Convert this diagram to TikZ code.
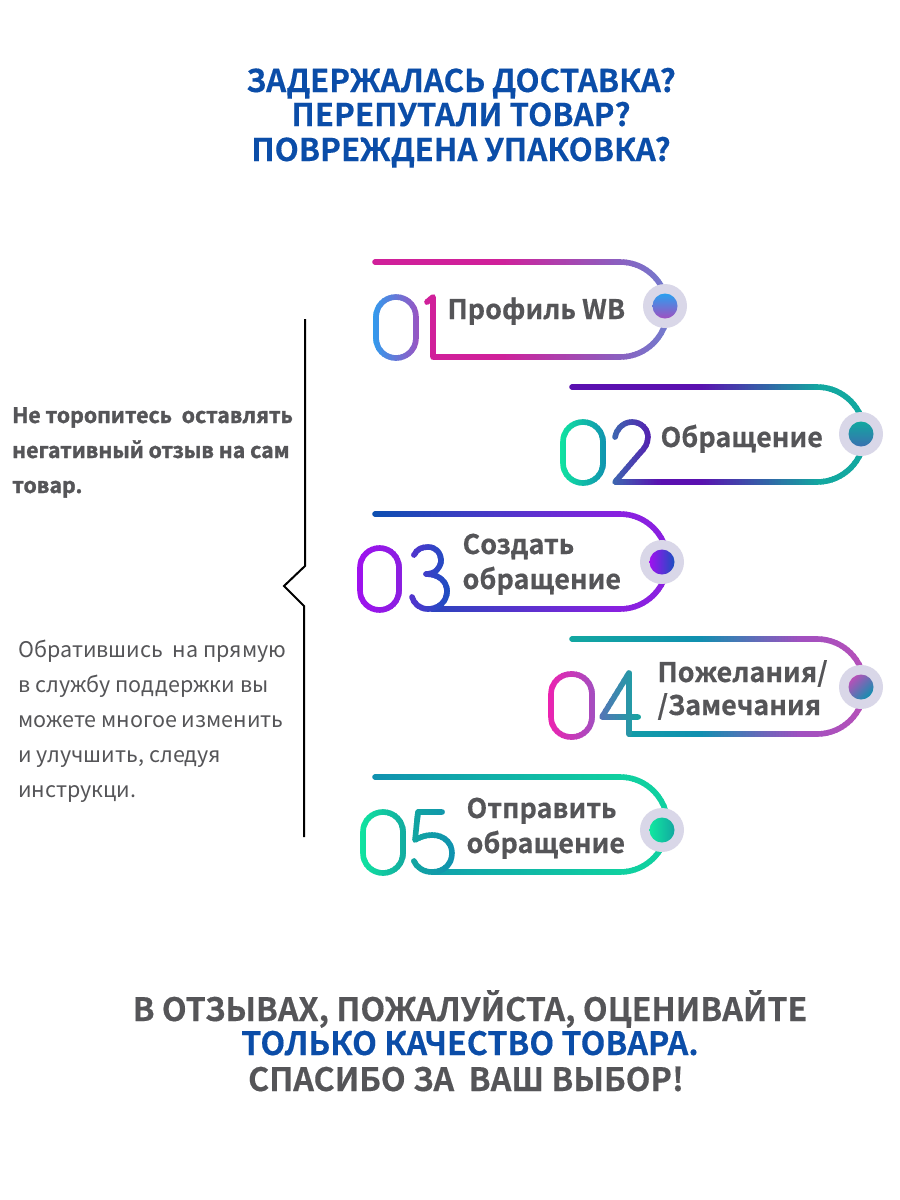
\documentclass[tikz,border=0pt]{standalone}
\usepackage{fontspec}
\setmainfont{Noto Sans CJK SC}[BoldFont={Noto Sans CJK SC Bold},BoldFeatures={FakeBold=0.4}]
\newfontfamily\sideheavy{Noto Sans CJK SC Bold}[FakeBold=1.6]
\definecolor{txt}{HTML}{555558}
\definecolor{navy}{HTML}{0B4DA8}
\definecolor{halo}{HTML}{D9D7E8}
\definecolor{mag}{HTML}{D0209A}
\definecolor{lilac}{HTML}{8A60C0}
\definecolor{peri}{HTML}{7080D0}
\definecolor{sky}{HTML}{2AA0F0}
\definecolor{orchid}{HTML}{A050C0}
\definecolor{violet}{HTML}{5A10B0}
\definecolor{teal}{HTML}{12A8A0}
\definecolor{mint}{HTML}{10E8A0}
\definecolor{ocean}{HTML}{1090B0}
\definecolor{steel}{HTML}{3A70B0}
\definecolor{cobalt}{HTML}{0A50B0}
\definecolor{purp}{HTML}{8A20E0}
\definecolor{brightp}{HTML}{A010F0}
\definecolor{indigo}{HTML}{5A30D0}
\definecolor{royal}{HTML}{1A50C0}
\definecolor{pink}{HTML}{F020B0}
\definecolor{orchidb}{HTML}{B850B8}
\definecolor{slate}{HTML}{5A70B8}
\definecolor{seafoam}{HTML}{10D0A0}
\tikzset{
  title/.style={font=\fontsize{31.3}{31.3}\selectfont\bfseries,text=navy,anchor=base},
  closing/.style={font=\fontsize{32.2}{32.2}\selectfont\bfseries,text=txt,anchor=base},
  tag/.style={font=\fontsize{27}{27}\selectfont\bfseries,text=txt,anchor=base west},
  sidebold/.style={font=\fontsize{21.3}{21.3}\selectfont\sideheavy,text=txt,anchor=base west,inner sep=0pt},
  sidereg/.style={font=\fontsize{21.5}{21.5}\selectfont,text=txt,anchor=base west,inner sep=0pt},
  stroke/.style={line width=5.6pt,line cap=round,line join=round},
}
% horizontal gradient stroke: x0, x1, colour a, colour b, path
\newcommand\gs[5]{%
  \pgfmathtruncatemacro\gsN{max(1,round((#2-#1)/3))}%
  \pgfmathsetmacro\gsS{(#2-#1)/\gsN}%
  \foreach \gsI in {1,...,\gsN}{%
    \pgfmathsetmacro\gsA{#1+\gsS*(\gsI-1)}%
    \pgfmathsetmacro\gsB{#1+\gsS*\gsI+1}%
    \pgfmathsetmacro\gsP{100*(\gsI-0.5)/\gsN}%
    \begin{scope}
      \clip (\gsA,0) rectangle (\gsB,1200);
      \draw[stroke,color={#4!\gsP!#3}] #5;
    \end{scope}
  }%
}
\newcommand\tagarc[2]{(#1,#2) .. controls ({#1+26.2},#2) and ({#1+47.5},{#2+21.3}) .. ({#1+47.5},{#2+47.5}) .. controls ({#1+47.5},{#2+73.7}) and ({#1+26.2},{#2+95}) .. (#1,{#2+95})}
% stadium zero: left, top, right, bottom
\newcommand\zeropath[4]{(#1,#2) rectangle (#3,#4)}
\begin{document}
\begin{tikzpicture}[x=1pt,y=-1pt]
\useasboundingbox (0,0) rectangle (900,1200);
\fill[white] (0,0) rectangle (900,1200);

% headings
\node[title] (t1) at (461,92) {ЗАДЕРЖАЛАСЬ ДОСТАВКА?};
\node[title] (t2) at (461,126) {ПЕРЕПУТАЛИ ТОВАР?};
\node[title] (t3) at (461,161) {ПОВРЕЖДЕНА УПАКОВКА?};

% item 1
\def\pa{(375,262) -- \tagarc{620}{262} -- (433,357) -- (433,297) -- (427,302)}
\gs{365}{500}{mag}{mag}{\pa}
\gs{500}{620}{mag}{lilac}{\pa}
\gs{620}{675}{lilac}{peri}{\pa}
\begin{scope}[rounded corners=19.9pt]
\gs{370}{422}{sky}{orchid}{\zeropath{376}{297}{416}{358}}
\end{scope}
\fill[halo] (665,306) circle (22);
\shade[top color=sky,bottom color=orchid] (665,306) circle (12.5);
\node[tag] (l1) at (444,319) {Профиль WB};

% item 2
\def\pb{(572,387) -- \tagarc{817}{387} -- (650,482)}
\gs{565}{700}{violet}{violet}{\pb}
\gs{700}{820}{violet}{teal}{\pb}
\gs{820}{870}{teal}{teal}{\pb}
\def\pbb{(615,437) .. controls (617,428) and (624,422) .. (632,422) .. controls (641,422) and (648,429) .. (648,437) .. controls (648,444) and (644,449) .. (640,453) -- (615,482) -- (660,482)}
\gs{608}{660}{steel}{violet}{\pbb}
\begin{scope}[rounded corners=19.9pt]
\gs{558}{608}{mint}{ocean}{\zeropath{563}{422}{603}{483}}
\end{scope}
\fill[halo] (861,434) circle (22);
\shade[top color=teal,bottom color=steel] (861,434) circle (12.5);
\node[tag] (l2) at (657,447) {Обращение};

% item 3
\def\pc{(375,514) -- \tagarc{620}{514} -- (432,609)}
\gs{368}{620}{cobalt}{purp}{\pc}
\gs{620}{675}{purp}{purp}{\pc}
\def\pcc{(414,555) .. controls (417,549) and (422,547) .. (428,547) .. controls (436,547) and (441,553) .. (441,560) .. controls (441,568) and (435,574) .. (426,574) .. controls (438,574) and (447,581) .. (447,591) .. controls (447,602) and (438,609) .. (428,609) .. controls (420,609) and (414,604) .. (412,597)}
\gs{405}{452}{indigo}{royal}{\pcc}
\begin{scope}[rounded corners=19.5pt]
\gs{355}{404}{brightp}{purp}{\zeropath{360}{548}{399}{610}}
\end{scope}
\fill[halo] (662,562) circle (22);
\shade[left color=brightp,right color=royal] (662,562) circle (12.5);
\node[tag] (l3a) at (459,554) {Создать};
\node[tag] (l3b) at (459,589) {обращение};

% item 4
\def\pd{(572,639) -- \tagarc{817}{639} -- (629,734)}
\gs{565}{700}{teal}{ocean}{\pd}
\gs{700}{800}{ocean}{orchid}{\pd}
\gs{800}{870}{orchid}{orchidb}{\pd}
\def\pdd{(629,734) -- (629,673) -- (602,717) -- (638,717)}
\gs{597}{643}{slate}{teal}{\pdd}
\begin{scope}[rounded corners=20pt]
\gs{546}{597}{pink}{orchid}{\zeropath{551}{674}{592}{737}}
\end{scope}
\fill[halo] (861,687) circle (22);
\shade[left color=orchidb,right color=ocean,shading angle=45] (861,687) circle (12.5);
\node[tag] (l4a) at (654,682) {Пожелания/};
\node[tag] (l4b) at (654,715) {/Замечания};

% item 5
\def\pe{(375,777) -- \tagarc{620}{777} -- (432,872)}
\gs{368}{620}{ocean}{seafoam}{\pe}
\gs{620}{675}{seafoam}{seafoam}{\pe}
\def\pee{(442,812) -- (418,812) -- (415,840) .. controls (420,837) and (426,835) .. (432,835) .. controls (444,835) and (452,843) .. (452,853) .. controls (452,864) and (444,872) .. (432,872) .. controls (424,872) and (417,868) .. (414,861)}
\gs{408}{458}{teal}{ocean}{\pee}
\begin{scope}[rounded corners=19.9pt]
\gs{358}{408}{mint}{teal}{\zeropath{363}{812}{403}{873}}
\end{scope}
\fill[halo] (662,830) circle (22);
\shade[left color=mint,right color=teal] (662,830) circle (12.5);
\node[tag] (l5a) at (463,818) {Отправить};
\node[tag] (l5b) at (463,853) {обращение};

% bracket
\draw[line width=2pt,black] (305,319) -- (305,566) -- (284,586) -- (304,606) -- (304,837);

% side texts
\node[sidebold] (b1) at (12,423) {Не торопитесь\ \ оставлять};
\node[sidebold] (b2) at (12,458) {негативный отзыв на сам};
\node[sidebold] (b3) at (12,493) {товар.};
\node[sidereg] (r1) at (18,657) {Обратившись\ \ на прямую};
\node[sidereg] (r2) at (18,692) {в службу поддержки вы};
\node[sidereg] (r3) at (18,727) {можете многое изменить};
\node[sidereg] (r4) at (18,762) {и улучшить, следуя};
\node[sidereg] (r5) at (18,797) {инструкци.};

% closing
\node[closing] (c1) at (470,1021) {В ОТЗЫВАХ, ПОЖАЛУЙСТА, ОЦЕНИВАЙТЕ};
\node[closing,text=navy] (c2) at (470,1055) {ТОЛЬКО КАЧЕСТВО ТОВАРА.};
\node[closing] (c3) at (466,1091) {СПАСИБО ЗА\ \ ВАШ ВЫБОР!};
\end{tikzpicture}
\end{document}
